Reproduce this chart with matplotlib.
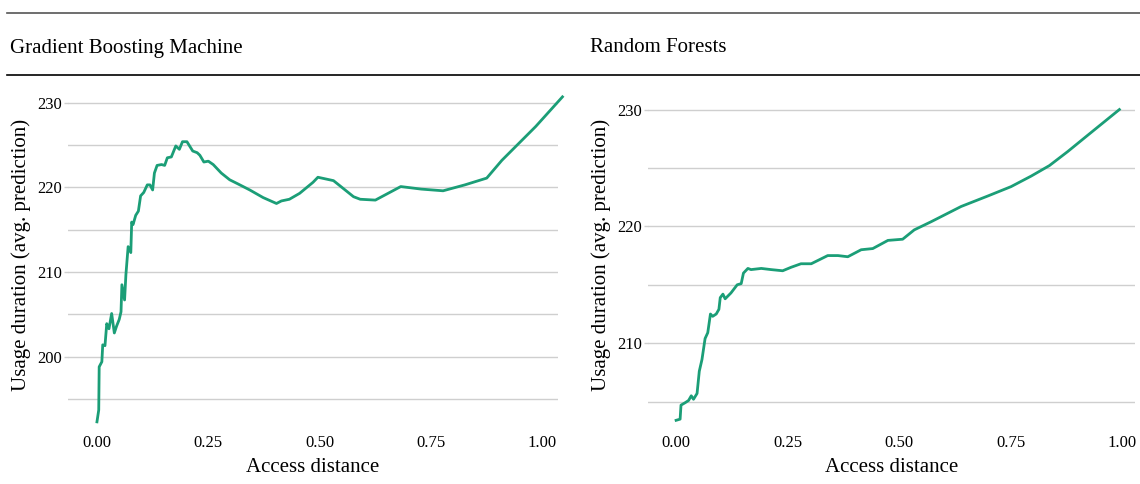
import matplotlib
matplotlib.use("Agg")
import matplotlib.pyplot as plt
from matplotlib.lines import Line2D

plt.rcParams["font.family"] = ["Liberation Serif", "DejaVu Serif"]

# Partial dependence of usage duration on access distance
gbm_x = [0.000, 0.004, 0.005, 0.011, 0.013, 0.018, 0.022, 0.027, 0.033, 0.039,
         0.044, 0.050, 0.054, 0.056, 0.062, 0.065, 0.070, 0.076, 0.078, 0.081,
         0.087, 0.093, 0.098, 0.105, 0.113, 0.119, 0.125, 0.129, 0.135, 0.145,
         0.152, 0.158, 0.167, 0.177, 0.185, 0.192, 0.202, 0.215, 0.225, 0.231,
         0.240, 0.250, 0.261, 0.279, 0.298, 0.317, 0.343, 0.373, 0.403, 0.414,
         0.432, 0.455, 0.485, 0.496, 0.531, 0.576, 0.591, 0.625, 0.682, 0.728,
         0.777, 0.826, 0.875, 0.909, 0.947, 0.985, 1.045]
gbm_y = [192.3, 193.7, 198.8, 199.4, 201.4, 201.3, 203.9, 203.3, 205.1, 202.8,
         203.6, 204.4, 205.3, 208.5, 206.7, 209.7, 213.0, 212.3, 215.9, 215.6,
         216.7, 217.2, 219.0, 219.4, 220.3, 220.3, 219.7, 221.7, 222.6, 222.7,
         222.6, 223.5, 223.6, 224.9, 224.5, 225.4, 225.4, 224.3, 224.1, 223.8,
         223.0, 223.1, 222.7, 221.7, 220.9, 220.4, 219.7, 218.8, 218.1, 218.4,
         218.6, 219.3, 220.6, 221.2, 220.8, 218.9, 218.6, 218.5, 220.1, 219.8,
         219.6, 220.3, 221.1, 223.2, 225.2, 227.2, 230.7]

rf_x = [0.000, 0.009, 0.011, 0.020, 0.028, 0.034, 0.039, 0.047, 0.052, 0.058,
        0.065, 0.071, 0.077, 0.082, 0.090, 0.096, 0.099, 0.105, 0.110, 0.123,
        0.137, 0.146, 0.151, 0.161, 0.168, 0.191, 0.213, 0.239, 0.258, 0.280,
        0.303, 0.340, 0.363, 0.385, 0.415, 0.441, 0.475, 0.508, 0.534, 0.572,
        0.639, 0.699, 0.751, 0.796, 0.837, 0.878, 0.923, 0.994]
rf_y = [203.4, 203.5, 204.7, 204.9, 205.1, 205.5, 205.2, 205.7, 207.6, 208.6,
        210.4, 210.9, 212.5, 212.3, 212.5, 212.9, 213.9, 214.2, 213.8, 214.3,
        215.0, 215.1, 216.0, 216.4, 216.3, 216.4, 216.3, 216.2, 216.5, 216.8,
        216.8, 217.5, 217.5, 217.4, 218.0, 218.1, 218.8, 218.9, 219.7, 220.4,
        221.7, 222.6, 223.4, 224.3, 225.2, 226.4, 227.8, 230.0]

x_ticks = [0.00, 0.25, 0.50, 0.75, 1.00]
x_ticklabels = ["0.00", "0.25", "0.50", "0.75", "1.00"]
titles = ["Gradient Boosting Machine", "Random Forests"]

LINE_COL = "#1b9e77"
GRID_COL = "#cfcfcf"

W, H = 1140, 484
fig = plt.figure(figsize=(W / 100, H / 100), dpi=100)


def px_box(x0, x1, y0, y1):
    return [x0 / W, 1 - y1 / H, (x1 - x0) / W, (y1 - y0) / H]


panels = [
    dict(box=px_box(68, 558, 85, 432), x=gbm_x, y=gbm_y, xlim=(-0.065, 1.035),
         ylim=(191.1, 232.1), major=[200, 210, 220, 230], minor=[195, 205, 215, 225],
         title_x=10),
    dict(box=px_box(648, 1135, 85, 432), x=rf_x, y=rf_y, xlim=(-0.063, 1.029),
         ylim=(202.4, 232.1), major=[210, 220, 230], minor=[205, 215, 225],
         title_x=590),
]

for p, title in zip(panels, titles):
    ax = fig.add_axes(p["box"])
    ax.plot(p["x"], p["y"], color=LINE_COL, lw=2.0, clip_on=False,
            solid_joinstyle="round", zorder=3)
    ax.set_xlim(*p["xlim"])
    ax.set_ylim(*p["ylim"])
    ax.set_xticks(x_ticks)
    ax.set_xticklabels(x_ticklabels)
    ax.set_yticks(p["major"])
    ax.set_yticks(p["minor"], minor=True)
    ax.grid(axis="y", which="both", color=GRID_COL, lw=1.0)
    ax.set_axisbelow(True)
    for s in ax.spines.values():
        s.set_visible(False)
    ax.tick_params(axis="x", length=0, pad=2, labelsize=12)
    ax.tick_params(axis="y", which="major", length=3, width=1.0, color=GRID_COL,
                   pad=1.5, labelsize=12)
    ax.tick_params(axis="y", which="minor", length=0)
    ax.set_xlabel("Access distance", fontsize=15, labelpad=5)
    ax.set_ylabel("Usage duration (avg. prediction)", fontsize=15)
    ax.yaxis.set_label_coords(-0.075, 0.51)
    fig.text(p["title_x"] / W, 1 - 48 / H, title, fontsize=15, va="center", ha="left")

# strip rules above and below the panel titles
fig.add_artist(Line2D([7 / W, 1], [1 - 12.5 / H] * 2, color="#555555", lw=1.2))
fig.add_artist(Line2D([7 / W, 1], [1 - 75 / H] * 2, color="black", lw=1.2))

fig.savefig("out.png", dpi=100)
